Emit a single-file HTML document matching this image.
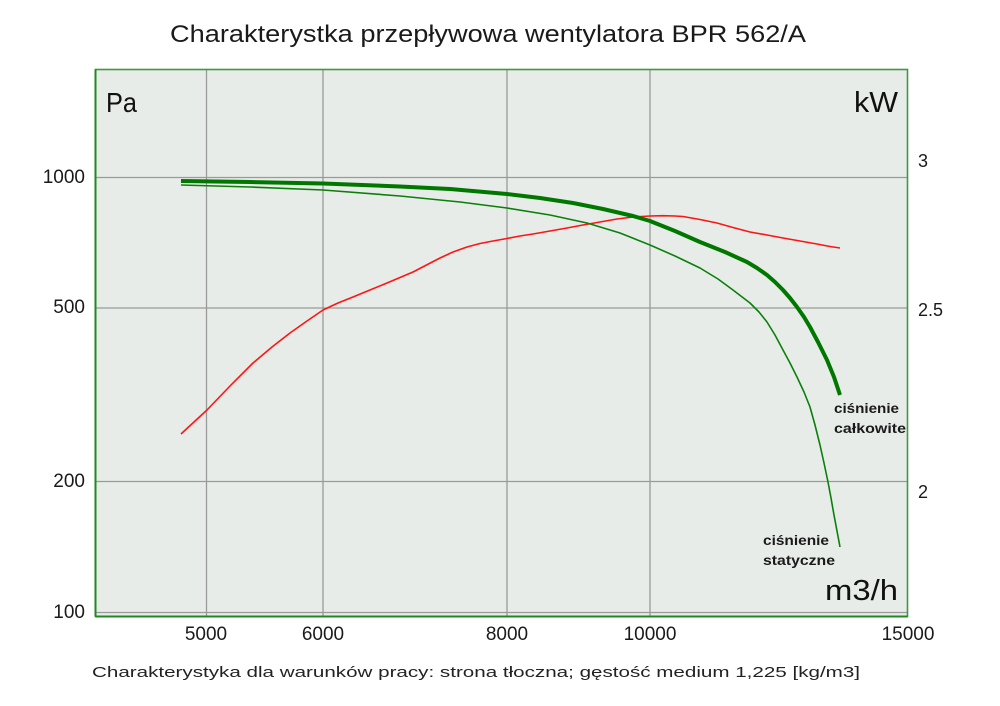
<!DOCTYPE html>
<html><head><meta charset="utf-8"><style>
html,body{margin:0;padding:0;background:#fff;}
svg{display:block;font-family:"Liberation Sans",sans-serif;}
</style></head><body>
<svg width="1000" height="706" viewBox="0 0 1000 706" xmlns="http://www.w3.org/2000/svg">
<rect x="0" y="0" width="1000" height="706" fill="#fff"/>
<text x="170" y="42" font-size="24" fill="#1a1a1a" textLength="636" lengthAdjust="spacingAndGlyphs">Charakterystka przepływowa wentylatora BPR 562/A</text>
<rect x="95.5" y="69.5" width="812" height="547" fill="#e7ece8"/>
<g stroke="#9a9a9a" stroke-width="1.3" fill="none">
<line x1="206.5" y1="70" x2="206.5" y2="616"/>
<line x1="323" y1="70" x2="323" y2="616"/>
<line x1="507" y1="70" x2="507" y2="616"/>
<line x1="650" y1="70" x2="650" y2="616"/>
<line x1="96" y1="177.5" x2="907" y2="177.5"/>
<line x1="96" y1="308" x2="907" y2="308"/>
<line x1="96" y1="481.5" x2="907" y2="481.5"/>
<line x1="96" y1="612.5" x2="907" y2="612.5"/>
</g>
<rect x="95.5" y="69.5" width="812" height="547" fill="none" stroke="#3e9a3e" stroke-width="1.6"/>
<line x1="95.5" y1="616.5" x2="907.5" y2="616.5" stroke="#1e8a1e" stroke-width="2"/>
<line x1="95.5" y1="69.5" x2="95.5" y2="616.5" stroke="#1e8a1e" stroke-width="2"/>
<polyline fill="none" stroke="#ff1414" stroke-width="1.6" stroke-linejoin="round" points="181,434 207,410 230,386 253,363 272,347 290,333 307,321 323,310 338,303 353,297 370,290 387,283 413,272 440,258 453,252 467,247 480,243.5 493,241 507,238.5 520,236 533,234 550,231 567,228 583,225 600,222 617,219 633,217 650,216 663,215.7 675,216 683,216.5 700,219.5 717,223 733,227.5 750,232 767,235 783,238 800,241 817,244 830,246.5 840,248"/>
<polyline fill="none" stroke="#0a800a" stroke-width="1.6" stroke-linejoin="round" points="181,185 250,187 323,190 400,196 460,202 507,208 550,215 587,223 620,233 650,245 675,256 700,268 718,279 733,290 750,303 759,312 767,322 775,335 783,350 790,363 797,377 804,392 810,407 815,425 820,445 824,463 828,482 831,498 834,515 837,531 840,547"/>
<polyline fill="none" stroke="#007800" stroke-width="4" stroke-linejoin="round" stroke-linecap="butt" points="181,181 250,182 323,183.5 400,186.5 450,189 507,194 540,198 573,203 603,209 633,216 650,221 675,231 700,242 725,252 747,262 757,268 767,275 775,282 783,290 790,298 797,307 804,317 810,327 818,342 827,360 834,377 840,395"/>
<g fill="#1a1a1a" font-size="19">
<text x="85" y="183" text-anchor="end">1000</text>
<text x="85" y="313" text-anchor="end">500</text>
<text x="85" y="487" text-anchor="end">200</text>
<text x="85" y="618" text-anchor="end">100</text>
<text x="206" y="640" text-anchor="middle">5000</text>
<text x="323" y="640" text-anchor="middle">6000</text>
<text x="507" y="640" text-anchor="middle">8000</text>
<text x="650" y="640" text-anchor="middle">10000</text>
<text x="908" y="640" text-anchor="middle">15000</text>
<text x="918" y="167" font-size="18">3</text>
<text x="918" y="316" font-size="18">2.5</text>
<text x="918" y="498" font-size="18">2</text>
</g>
<g fill="#111">
<text x="106" y="112" font-size="28" textLength="31" lengthAdjust="spacingAndGlyphs">Pa</text>
<text x="854" y="112" font-size="29" textLength="44" lengthAdjust="spacingAndGlyphs">kW</text>
<text x="825" y="600" font-size="29" textLength="73" lengthAdjust="spacingAndGlyphs">m3/h</text>
</g>
<g fill="#1a1a1a" font-size="14" font-weight="bold">
<text x="834" y="413" textLength="65" lengthAdjust="spacingAndGlyphs">ciśnienie</text>
<text x="834" y="433" textLength="72" lengthAdjust="spacingAndGlyphs">całkowite</text>
<text x="763" y="545" textLength="66" lengthAdjust="spacingAndGlyphs">ciśnienie</text>
<text x="763" y="565" textLength="72" lengthAdjust="spacingAndGlyphs">statyczne</text>
</g>
<text x="92" y="677" font-size="15" fill="#222" textLength="768" lengthAdjust="spacingAndGlyphs">Charakterystyka dla warunków pracy: strona tłoczna; gęstość medium 1,225 [kg/m3]</text>
</svg>
</body></html>
